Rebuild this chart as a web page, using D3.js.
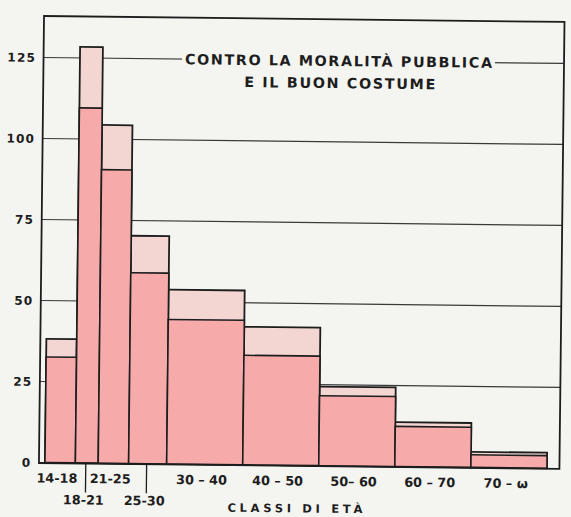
<!DOCTYPE html>
<html>
<head>
<meta charset="utf-8">
<script src="https://cdn.jsdelivr.net/npm/d3@7"></script>
<style>
  html, body { margin: 0; padding: 0; background: #f4f4f1; }
  svg { display: block; }
  text { font-family: "DejaVu Sans", sans-serif; font-weight: bold; fill: #1d1d1d; }
</style>
</head>
<body>
<svg id="chart" width="571" height="517"></svg>
<script>
// Age classes (years); the open class "70-ω" is drawn up to 80
const classi = ["14-18", "18-21", "21-25", "25-30", "30 – 40", "40 – 50", "50– 60", "60 – 70", "70 – ω"];
const etaInizio = [14, 18, 21, 25, 30, 40, 50, 60, 70];
const etaFine = [18, 21, 25, 30, 40, 50, 60, 70, 80];
// Height of the whole column and of its lower (darker) part
const totale = [38.2, 128.4, 104.4, 70.3, 53.8, 42.6, 24.4, 13.7, 4.8];
const parteInferiore = [32.6, 109.6, 90.6, 58.9, 44.6, 33.8, 21.6, 12.4, 3.9];
const yTicks = [0, 25, 50, 75, 100, 125];
const titolo = ["CONTRO LA MORALITÀ PUBBLICA", "E IL BUON COSTUME"];
const titoloAsse = "CLASSI DI ETÀ";

const W = 571, H = 517;
const frame = { left: 41.5, top: 19, right: 562, bottom: 466 };
const ink = "#1d1d1d";
const bg = "#f4f4f1";
const colInferiore = "#f6abaa";
const colSuperiore = "#f3d5d1";

const x = d3.scaleLinear().domain([14, 80]).range([47.5, 549.5]);
const y = d3.scaleLinear().domain([0, 125]).range([465.5, 60.5]);

const bars = classi.map((c, i) => ({
  c, a: etaInizio[i], b: etaFine[i], tot: totale[i], inf: parteInferiore[i], i
}));

const svg = d3.select("#chart");
svg.append("rect").attr("width", W).attr("height", H).attr("fill", bg);

// the hand-drawn sheet sits slightly askew
const g = svg.append("g").attr("transform", "rotate(0.65, 305, 240)");

// horizontal guide lines
g.append("g").selectAll("line")
  .data(yTicks.filter(v => v > 0))
  .join("line")
  .attr("x1", frame.left).attr("x2", frame.right)
  .attr("y1", d => y(d)).attr("y2", d => y(d))
  .attr("stroke", "#3a3a3a").attr("stroke-width", 1.2);

// title, interrupting the top guide line
const tg = g.append("g");
const t1 = tg.append("text")
  .attr("x", 336.5).attr("y", y(125) + 5.2)
  .attr("text-anchor", "middle")
  .attr("font-size", 14.3)
  .attr("textLength", 307).attr("lengthAdjust", "spacing")
  .text(titolo[0]);
const bb = t1.node().getBBox();
tg.insert("rect", "text")
  .attr("x", bb.x - 3).attr("y", y(125) - 3)
  .attr("width", bb.width + 6).attr("height", 6)
  .attr("fill", bg);
tg.append("text")
  .attr("x", 338).attr("y", 87.8)
  .attr("text-anchor", "middle")
  .attr("font-size", 14.3)
  .attr("textLength", 191).attr("lengthAdjust", "spacing")
  .text(titolo[1]);

// columns: full height in the light tint, lower part in the darker tint
const bg2 = g.append("g");
bg2.selectAll("rect.sup")
  .data(bars).join("rect").attr("class", "sup")
  .attr("x", d => x(d.a)).attr("width", d => x(d.b) - x(d.a))
  .attr("y", d => y(d.tot)).attr("height", d => y(0) - y(d.tot))
  .attr("fill", colSuperiore).attr("stroke", ink).attr("stroke-width", 1.8);
bg2.selectAll("rect.inf")
  .data(bars).join("rect").attr("class", "inf")
  .attr("x", d => x(d.a)).attr("width", d => x(d.b) - x(d.a))
  .attr("y", d => y(d.inf)).attr("height", d => y(0) - y(d.inf))
  .attr("fill", colInferiore).attr("stroke", ink).attr("stroke-width", 1.6);

// frame
g.append("rect")
  .attr("x", frame.left).attr("y", frame.top)
  .attr("width", frame.right - frame.left).attr("height", frame.bottom - frame.top)
  .attr("fill", "none").attr("stroke", ink).attr("stroke-width", 1.8);

// y tick labels
g.append("g").selectAll("text")
  .data(yTicks).join("text")
  .attr("x", 34).attr("y", d => y(d) + 4.5)
  .attr("text-anchor", "end")
  .attr("font-size", 12)
  .attr("letter-spacing", 1.2)
  .text(d => d);

// x labels: the two narrow classes go on a second row with a leader line
const lowRow = d => d.i === 1 || d.i === 3;
const xl = g.append("g");
xl.selectAll("line")
  .data(bars.filter(lowRow)).join("line")
  .attr("x1", d => x((d.a + d.b) / 2) - 1).attr("x2", d => x((d.a + d.b) / 2) - 1)
  .attr("y1", frame.bottom).attr("y2", 495)
  .attr("stroke", ink).attr("stroke-width", 1.3);
xl.selectAll("text")
  .data(bars).join("text")
  .attr("x", d => x((d.a + d.b) / 2) - 3)
  .attr("y", d => lowRow(d) ? 507 : 485.5)
  .attr("text-anchor", "middle")
  .attr("font-size", 12.8)
  .text(d => d.c);

g.append("text")
  .attr("x", 298).attr("y", 512.5)
  .attr("text-anchor", "middle")
  .attr("font-size", 11.5)
  .attr("textLength", 135).attr("lengthAdjust", "spacing")
  .text(titoloAsse);
</script>
</body>
</html>
